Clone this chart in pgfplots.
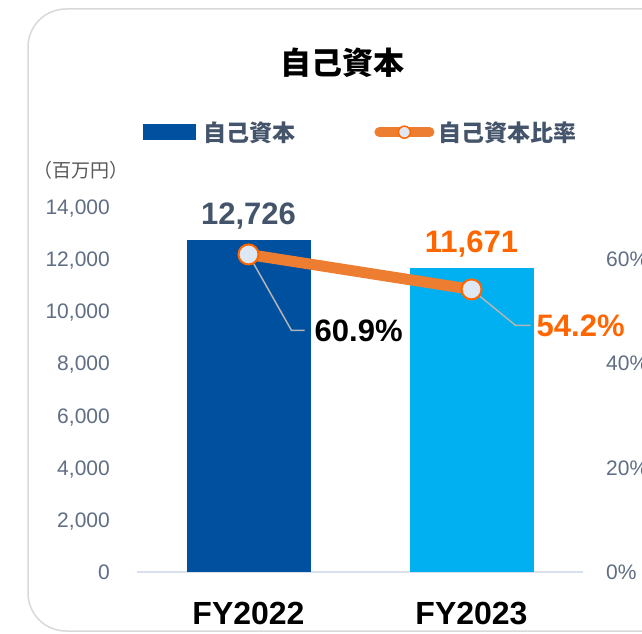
\documentclass[border=0pt]{standalone}
\usepackage{fontspec}
\setmainfont{Liberation Sans}
\newfontfamily\jp{Noto Sans CJK JP}
\usepackage{pgfplots}
\pgfplotsset{compat=1.18}
\definecolor{barA}{RGB}{0,80,160}
\definecolor{barB}{RGB}{0,176,240}
\definecolor{lineO}{RGB}{237,125,49}
\definecolor{txtO}{RGB}{255,102,0}
\definecolor{slate}{RGB}{68,84,106}
\definecolor{tickc}{RGB}{96,110,132}
\definecolor{mfill}{RGB}{222,232,244}
\definecolor{axisc}{RGB}{217,225,236}
\definecolor{borderc}{RGB}{217,217,217}
\definecolor{leaderc}{RGB}{180,180,180}
\definecolor{unitc}{RGB}{89,89,89}
\begin{document}
\begin{tikzpicture}[x=1pt,y=1pt]
\path[use as bounding box, clip] (0,0) rectangle (642,633);
\fill[white] (0,0) rectangle (642,633);
\draw[borderc, line width=1.5pt, rounded corners=38pt] (28,2) rectangle (700,624);
\node[font=\jp\bfseries\fontsize{31}{36}\selectfont, anchor=center, inner sep=0pt] at (342,570) {自己資本};
\node[font=\jp\fontsize{19}{22}\selectfont, text=unitc, anchor=west, inner sep=0pt] at (33,463) {（百万円）};
\begin{axis}[at={(137pt,61pt)}, anchor=south west, scale only axis,
  width=446pt, height=365pt,
  xmin=-0.5, xmax=1.5, ymin=0, ymax=14000,
  xtick={0,1}, xticklabels={FY2022,FY2023},
  ytick={0,2000,...,14000},
  scaled y ticks=false,
  major tick length=0pt,
  axis x line*=bottom, axis y line*=left,
  y axis line style={draw=none},
  x axis line style={draw=axisc, line width=1.5pt},
  /pgf/number format/1000 sep={,},
  /pgf/number format/assume math mode=true,
  yticklabel style={anchor=base east, inner sep=0pt, xshift=-27pt, yshift=-7.5pt, font=\fontsize{21}{25}\selectfont, text=tickc, /pgf/number format/fixed},
  xticklabel style={anchor=base, inner sep=0pt, yshift=-52.5pt, font=\bfseries\fontsize{32}{36}\selectfont, text=black},
  clip=false,
  legend columns=2,
  legend style={at={(axis description cs:0.0135,1.205)}, anchor=west, draw=none, fill=none,
    inner sep=0pt, outer sep=0pt,
    nodes={inner sep=0pt, font=\jp\bfseries\fontsize{23}{26}\selectfont, text=slate},
    /tikz/every even column/.append style={column sep=79pt}},
]
\addplot[ybar, bar width=124pt, bar shift=0pt, fill=barA, draw=none, forget plot,
  nodes near coords, nodes near coords style={anchor=base, inner sep=0pt, yshift=15.5pt, font=\bfseries\fontsize{31}{36}\selectfont, text=slate}]
  coordinates {(0,12726)};
\addplot[ybar, bar width=124pt, bar shift=0pt, fill=barB, draw=none, forget plot,
  nodes near coords, nodes near coords style={anchor=base, inner sep=0pt, yshift=15.5pt, font=\bfseries\fontsize{31}{36}\selectfont, text=txtO}]
  coordinates {(1,11671)};
\addlegendimage{legend image code/.code={\fill[barA] (0pt,-7.5pt) rectangle (52pt,7.5pt); \path (60pt,0pt);}}
\addlegendentry{自己資本}
\addlegendimage{legend image code/.code={\draw[lineO, line width=10pt, line cap=round] (5pt,0pt) -- (55pt,0pt); \draw[txtO, fill=mfill, line width=1.5pt] (30pt,0pt) circle (6pt); \path (64pt,0pt);}}
\addlegendentry{自己資本比率}
\end{axis}
\begin{axis}[at={(137pt,61pt)}, anchor=south west, scale only axis,
  width=446pt, height=365pt,
  xmin=-0.5, xmax=1.5, ymin=0, ymax=70,
  axis x line=none, axis y line*=right,
  y axis line style={draw=none},
  ytick={0,20,40,60},
  yticklabel={\pgfmathprintnumber{\tick}\%},
  major tick length=0pt,
  /pgf/number format/assume math mode=true,
  yticklabel style={anchor=base west, inner sep=0pt, xshift=23pt, yshift=-7.5pt, font=\fontsize{21}{25}\selectfont, text=tickc},
  clip=false,
]
\addplot[lineO, line width=11pt, mark=*, mark size=10pt, mark options={fill=mfill, draw=txtO, line width=2pt}]
  coordinates {(0,60.9) (1,54.2)};
\draw[leaderc, line width=1.5pt] (axis cs:0,60.9) -- ++(43pt,-76pt) -- ++(13pt,0pt);
\draw[leaderc, line width=1.5pt] (axis cs:1,54.2) -- ++(44pt,-36pt) -- ++(15pt,0pt);
\node[anchor=base west, inner sep=0pt, font=\bfseries\fontsize{31}{36}\selectfont, text=black] at ([shift={(66pt,-87.5pt)}]axis cs:0,60.9) {60.9\%};
\node[anchor=base west, inner sep=0pt, font=\bfseries\fontsize{31}{36}\selectfont, text=txtO] at ([shift={(65pt,-47.5pt)}]axis cs:1,54.2) {54.2\%};
\end{axis}
\end{tikzpicture}
\end{document}
